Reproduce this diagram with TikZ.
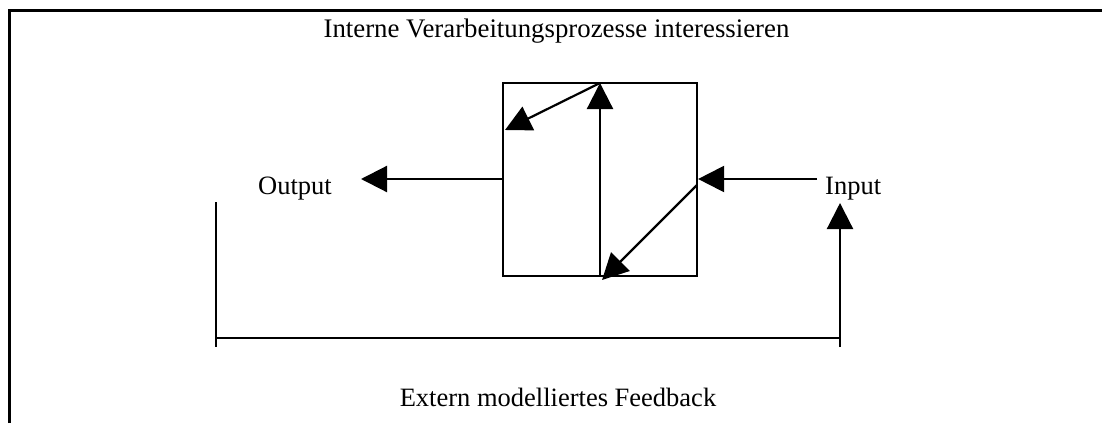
\documentclass[tikz,border=0pt]{standalone}
\usepackage{fontspec}
\setmainfont{Liberation Serif}
\usetikzlibrary{arrows.meta}
\begin{document}
\begin{tikzpicture}[x=1pt,y=-1pt,
  line/.style={line width=2.2pt},
  arr/.style={line width=2.2pt,-{Triangle[length=26pt,width=26pt]}},
  lbl/.style={inner sep=0pt,font=\fontsize{26.5}{30}\selectfont}]
\useasboundingbox (0,0) rectangle (1102,423);
% outer frame (top and left edges)
\draw[line width=3pt] (9,423) -- (9,10) -- (1102,10);
% labels
\node[lbl,anchor=base,font=\fontsize{26.8}{30}\selectfont] (title) at (556.5,37) {Interne Verarbeitungsprozesse interessieren};
\node[lbl,anchor=base west] (out) at (258,194) {Output};
\node[lbl,anchor=base west] (in) at (825,194) {Input};
\node[lbl,anchor=base] (fb) at (558,406) {Extern modelliertes Feedback};
% processing box
\node[draw,line,minimum width=194pt,minimum height=193pt,inner sep=0pt] (box) at (600,179.5) {};
% reference points
\coordinate (midtop) at (600,83);
\coordinate (midbot) at (600,276);
\coordinate (lefttip) at (505,130);
\coordinate (rightpt) at (697,185);
\coordinate (bottip) at (602,280);
\coordinate (outtip) at (361,179);
\coordinate (inend) at (817,179);
\coordinate (fbL1) at (216,202);
\coordinate (fbL2) at (216,347);
\coordinate (fbH1) at (216,338);
\coordinate (fbH2) at (840,338);
\coordinate (fbR1) at (840,347);
\coordinate (fbR2) at (840,203);
% internal flow
\draw[arr] (midbot) -- (midtop);
\draw[arr] (midtop) -- (lefttip);
\draw[arr] (rightpt) -- (bottip);
% input and output
\draw[arr] (box.west |- outtip) -- (outtip);
\draw[arr] (inend) -- (box.east |- inend);
% feedback loop
\draw[line] (fbL1) -- (fbL2);
\draw[line] (fbH1) -- (fbH2);
\draw[arr] (fbR1) -- (fbR2);
\end{tikzpicture}
\end{document}
